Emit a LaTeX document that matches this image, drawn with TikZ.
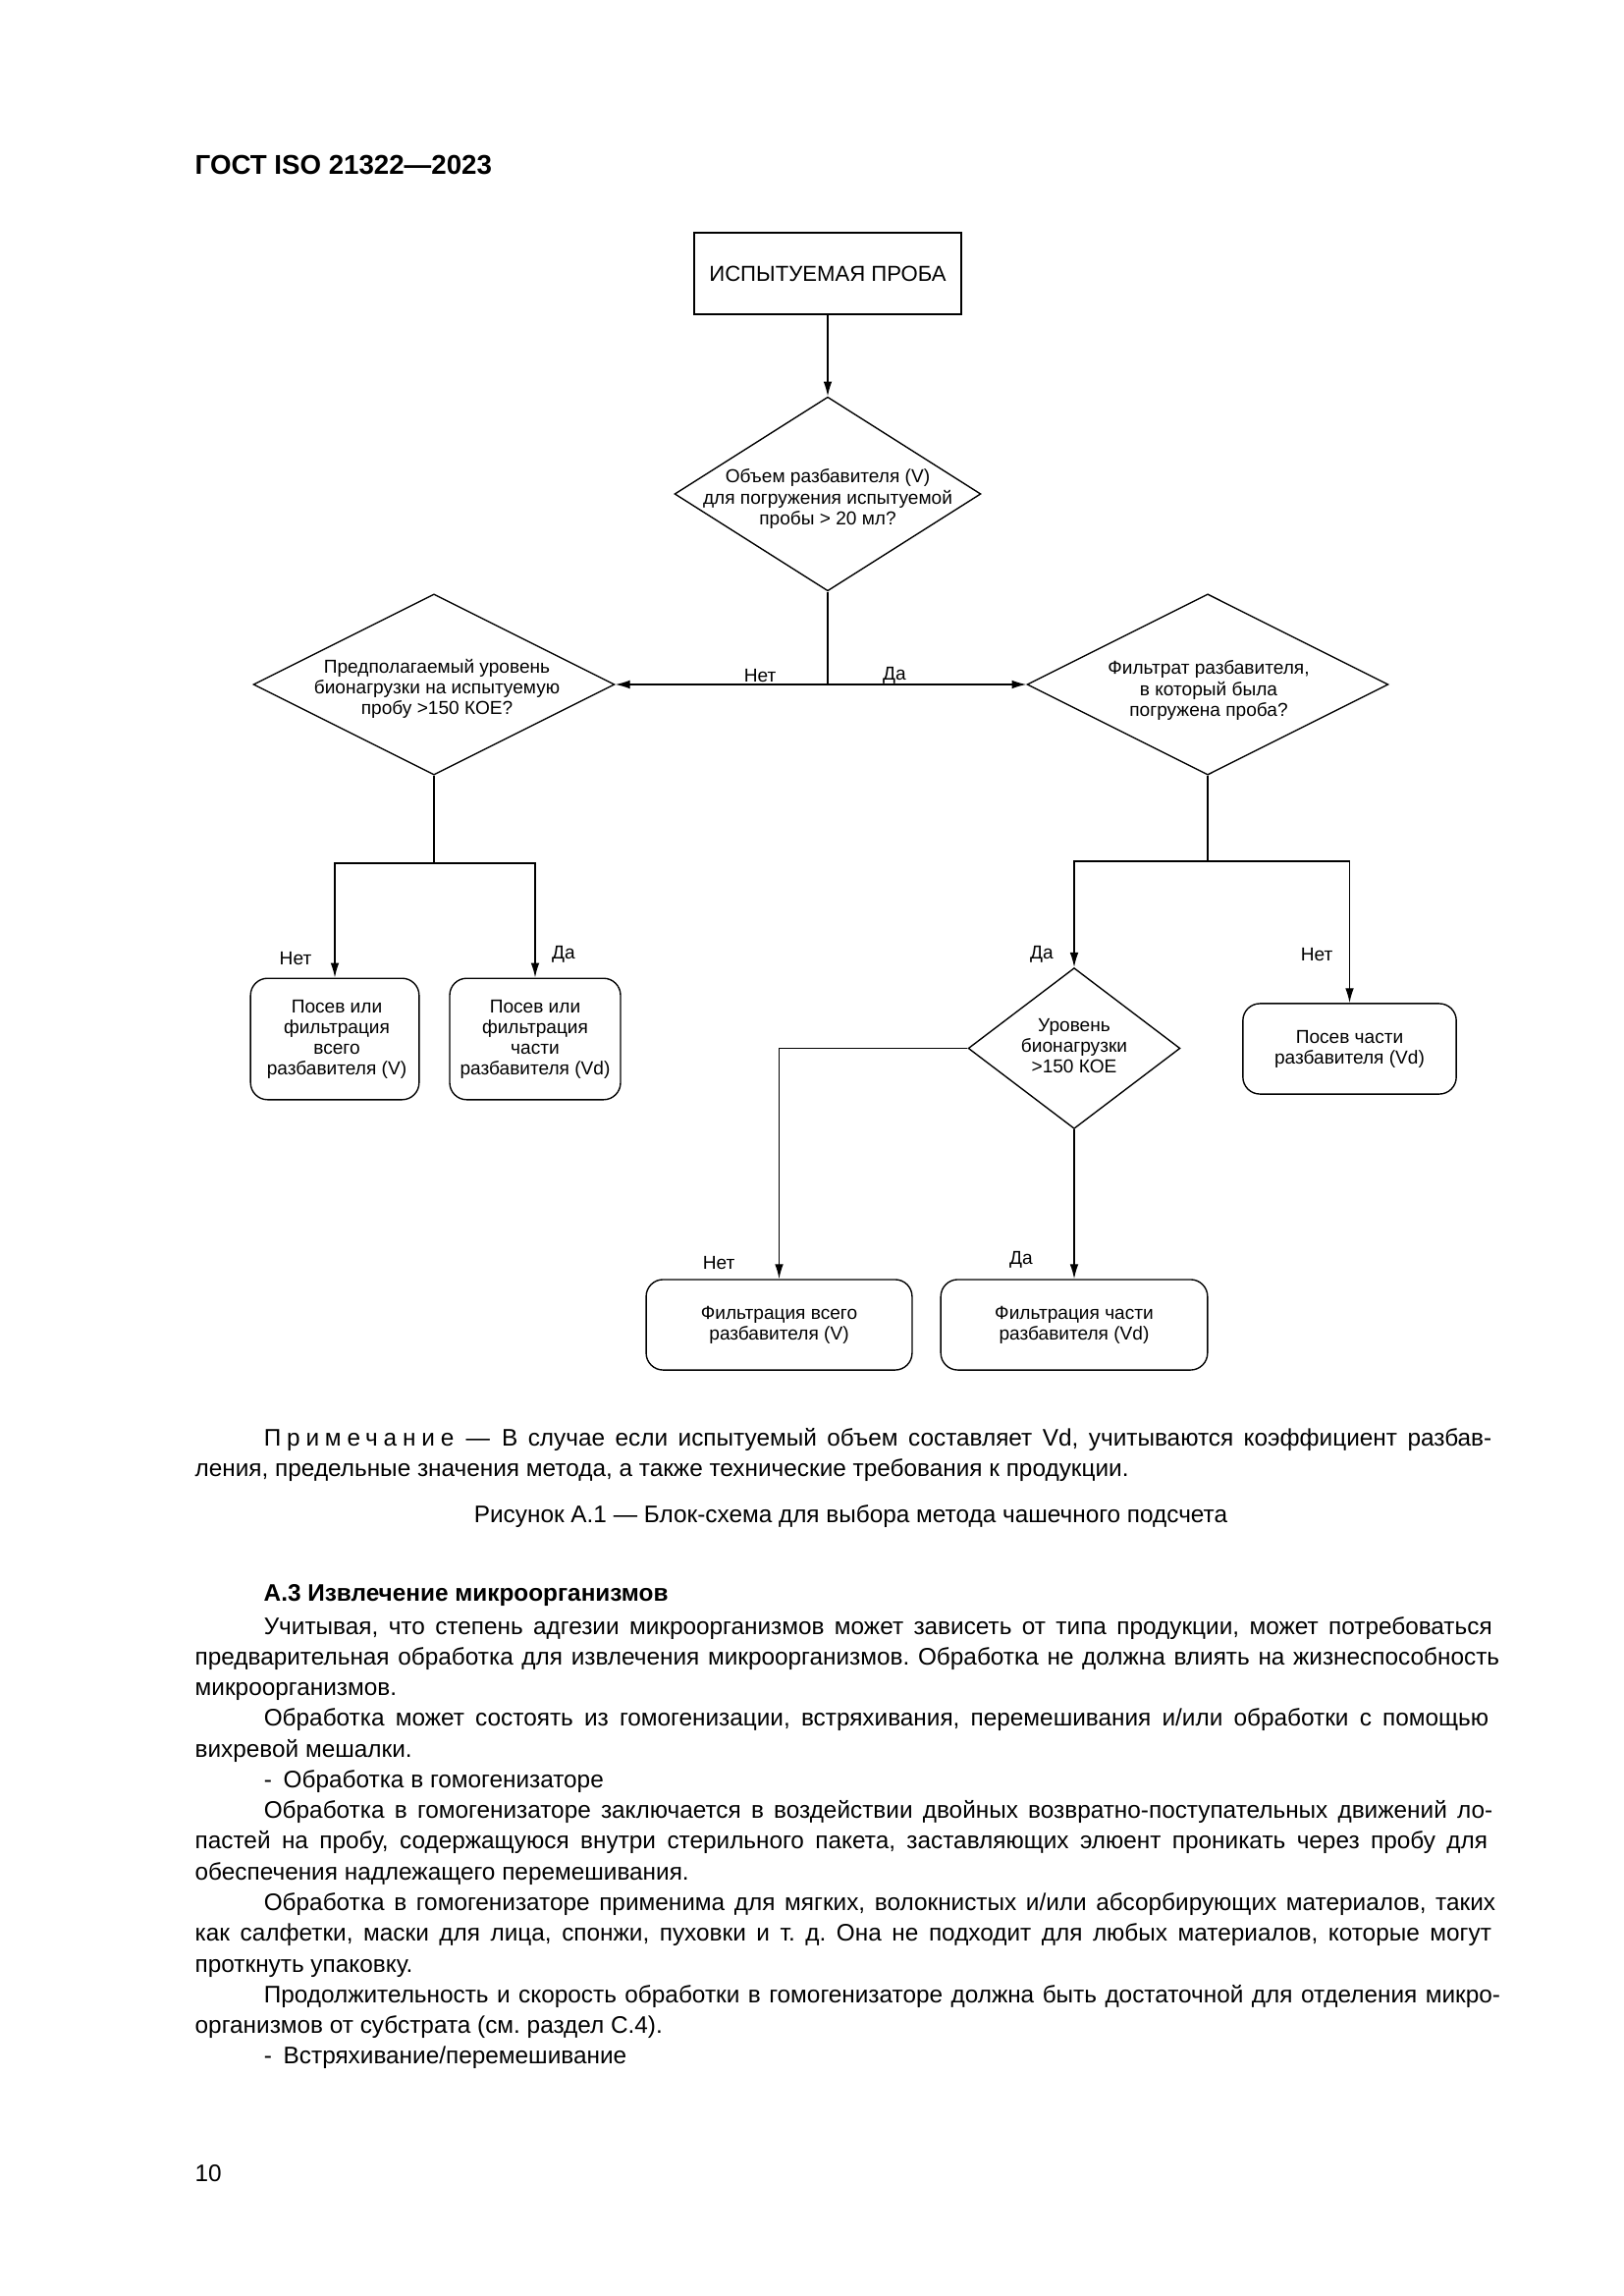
\documentclass[tikz,border=0pt]{standalone}
\usepackage{fontspec}
\setmainfont{Liberation Sans}
\usetikzlibrary{shapes.geometric,arrows.meta}

\begin{document}
\begin{tikzpicture}[x=0.127mm, y=-0.127mm, line width=0.5pt,
	>={Latex[length=1.9mm,width=1.1mm]},
	flow/.style={font=\fontsize{6.9}{7.6}\selectfont, align=center, inner sep=0pt},
	answer/.style={font=\fontsize{6.9}{8}\selectfont, inner sep=0pt},
	startbox/.style={draw, minimum width=34.5mm, minimum height=10.5mm, font=\fontsize{8}{9}\selectfont},
	decision/.style={draw, diamond, inner sep=0pt},
	resultbox/.style={draw, rounded corners=2.2mm},
	pagetext/.style={anchor=base west, inner sep=0pt, font=\fontsize{8.8}{11.3}\selectfont},
	bodytext/.style={pagetext, text width=169.8mm, execute at begin node={\frenchspacing\spaceskip=0.278em plus 0.45em minus 0.2em}}]

	\useasboundingbox (0,0) rectangle (1653,2338);

	\node[pagetext, font=\bfseries\fontsize{10}{12}\selectfont] (header) at (198,178) {ГОСТ ISO 21322—2023};

	\node[startbox] (sample) at (843,278.5) {ИСПЫТУЕМАЯ ПРОБА};
	\node[decision, minimum width=39.6mm, minimum height=25.1mm] (volume) at (843,503) {};
	\node[flow] (volumetext) at (843,508) {Объем разбавителя (V)\\для погружения испытуемой\\пробы > 20 мл?};

	\node[decision, minimum width=46.7mm, minimum height=23.4mm] (load) at (442,697) {};
	\node[flow] (loadtext) at (445,701) {Предполагаемый уровень\\бионагрузки на испытуемую\\пробу >150 КОЕ?};
	\node[decision, minimum width=46.7mm, minimum height=23.4mm] (filtrate) at (1230,697) {};
	\node[flow] (filtratetext) at (1231,703) {Фильтрат разбавителя,\\в который была\\погружена проба?};

	\node[resultbox, minimum width=21.8mm, minimum height=15.7mm] (sowall) at (341,1058) {};
	\node[flow] (sowalltext) at (343,1058) {Посев или\\фильтрация\\всего\\разбавителя (V)};
	\node[resultbox, minimum width=22.1mm, minimum height=15.7mm] (sowpart) at (545,1058) {};
	\node[flow] (sowparttext) at (545,1058) {Посев или\\фильтрация\\части\\разбавителя (Vd)};

	\node[decision, minimum width=27.4mm, minimum height=20.8mm] (level) at (1094,1067.5) {};
	\node[flow] (leveltext) at (1094,1065) {Уровень\\бионагрузки\\>150 КОЕ};
	\node[resultbox, minimum width=27.6mm, minimum height=11.7mm] (sowrest) at (1374.5,1068) {};
	\node[flow] (sowresttext) at (1374.5,1068) {Посев части\\разбавителя (Vd)};

	\node[resultbox, minimum width=34.4mm, minimum height=11.7mm] (filtall) at (793.5,1349) {};
	\node[flow] (filtalltext) at (793.5,1349) {Фильтрация всего\\разбавителя (V)};
	\node[resultbox, minimum width=34.5mm, minimum height=11.7mm] (filtpart) at (1094,1349) {};
	\node[flow] (filtparttext) at (1094,1349) {Фильтрация части\\разбавителя (Vd)};

	\node[answer] (no1) at (774,688) {Нет};
	\node[answer] (yes1) at (911,688) {Да};
	\node[answer] (no2) at (301,976) {Нет};
	\node[answer] (yes2) at (574,972) {Да};
	\node[answer] (yes3) at (1061,972) {Да};
	\node[answer] (no3) at (1341,972) {Нет};
	\node[answer] (no4) at (732,1286) {Нет};
	\node[answer] (yes4) at (1040,1283) {Да};

	\coordinate (lsplit) at (442,879);
	\coordinate (rsplit) at (1230,877);

	\draw[->] (sample) -- (volume);
	\draw (volume.south) -- (volume.south |- load.east);
	\draw[<->] (load.east) -- (filtrate.west);
	\draw (load.south) -- (lsplit);
	\draw[->] (lsplit) -| (sowall.north);
	\draw[->] (lsplit) -| (sowpart.north);
	\draw (filtrate.south) -- (rsplit);
	\draw[->] (rsplit) -| (level.north);
	\draw[->] (rsplit) -| (sowrest.north);
	\draw[->] (level.west) -| (filtall.north);
	\draw[->] (level) -- (filtpart);

	\node[bodytext] (note) at (198,1472) {\hspace*{8.9mm}{\addfontfeature{LetterSpace=24}Примечание}\enskip—\enskip В случае если испытуемый объем составляет Vd, учитываются коэффициент разбав-\linebreak ления, предельные значения метода, а также технические требования к продукции.};
	\node[pagetext, anchor=base] (caption) at (866.5,1550) {Рисунок А.1 — Блок-схема для выбора метода чашечного подсчета};

	\node[pagetext, font=\bfseries\fontsize{8.8}{11.3}\selectfont] (heading) at (268,1630) {А.3 Извлечение микроорганизмов};
	\node[bodytext] (body) at (198,1664) {%
		\hspace*{8.9mm}Учитывая, что степень адгезии микроорганизмов может зависеть от типа продукции, может потребоваться\linebreak
		предварительная обработка для извлечения микроорганизмов. Обработка не должна влиять на жизнеспособность\linebreak
		микроорганизмов.\par
		\hspace*{8.9mm}Обработка может состоять из гомогенизации, встряхивания, перемешивания и/или обработки с помощью\linebreak
		вихревой мешалки.\par
		\hspace*{8.9mm}-\hspace{1.5mm}Обработка в гомогенизаторе\par
		\hspace*{8.9mm}Обработка в гомогенизаторе заключается в воздействии двойных возвратно-поступательных движений ло-\linebreak
		пастей на пробу, содержащуюся внутри стерильного пакета, заставляющих элюент проникать через пробу для\linebreak
		обеспечения надлежащего перемешивания.\par
		\hspace*{8.9mm}Обработка в гомогенизаторе применима для мягких, волокнистых и/или абсорбирующих материалов, таких\linebreak
		как салфетки, маски для лица, спонжи, пуховки и т.~д. Она не подходит для любых материалов, которые могут\linebreak
		проткнуть упаковку.\par
		\hspace*{8.9mm}Продолжительность и скорость обработки в гомогенизаторе должна быть достаточной для отделения микро-\linebreak
		организмов от субстрата (см. раздел С.4).\par
		\hspace*{8.9mm}-\hspace{1.5mm}Встряхивание/перемешивание};

	\node[pagetext] (pageno) at (198,2221) {10};
\end{tikzpicture}
\end{document}
